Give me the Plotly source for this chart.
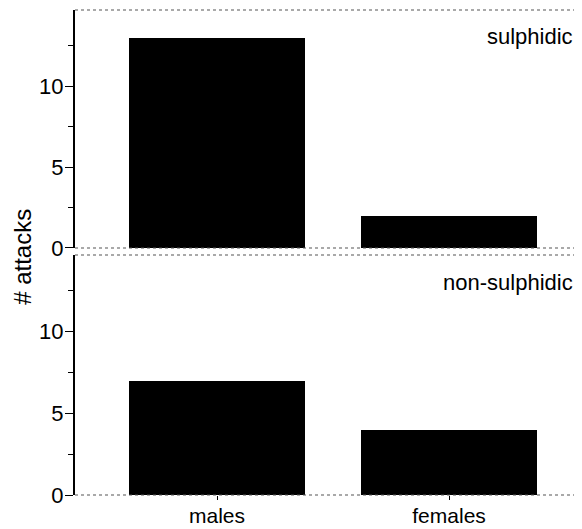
import plotly.graph_objects as go
from plotly.subplots import make_subplots

categories = ["males", "females"]
sulphidic = [13, 2]
non_sulphidic = [7, 4]
panel_labels = ["sulphidic", "non-sulphidic"]
y_tickvals = [0, 5, 10]
y_minor_tickvals = [2.5, 7.5, 12.5]

fig = make_subplots(rows=2, cols=1, shared_xaxes=True, vertical_spacing=0.0)

fig.add_trace(go.Bar(x=categories, y=sulphidic, marker=dict(color="black", line=dict(width=0)),
                     width=0.755, showlegend=False), row=1, col=1)
fig.add_trace(go.Bar(x=categories, y=non_sulphidic, marker=dict(color="black", line=dict(width=0)),
                     width=0.755, showlegend=False), row=2, col=1)

font = dict(family="Liberation Sans, Arial, sans-serif", size=22, color="black")

yax = dict(range=[0, 14.7], tickvals=y_tickvals, ticks="outside", ticklen=8, tickwidth=1,
           tickcolor="black", showline=True, linecolor="black", linewidth=2,
           showgrid=False, zeroline=False, tickfont=font, automargin=False,
           ticklabelstandoff=-3,
           minor=dict(tickvals=y_minor_tickvals, ticks="outside", ticklen=5, tickcolor="black", tickwidth=1))

fig.update_layout(
    width=574, height=521,
    margin=dict(l=67, r=0, t=2, b=34, pad=0),
    plot_bgcolor="white", paper_bgcolor="white",
    font=font, bargap=0,
    xaxis=dict(domain=[0, 1], range=[-0.612, 1.573], showticklabels=False, ticks="",
               showgrid=False, zeroline=False, anchor="y", automargin=False),
    xaxis2=dict(domain=[0, 1], range=[-0.612, 1.573], ticks="outside", ticklen=4, tickcolor="black",
                showgrid=False, zeroline=False, tickfont=dict(font, size=21), anchor="y2",
                automargin=False, ticklabelstandoff=-2),
    yaxis=dict(domain=[0.5093, 1.0], **yax),
    yaxis2=dict(domain=[0.0, 0.4948], **yax),
)

line_style = dict(color="#555", width=1.2, dash="dot")
for yref, ypos in [("y domain", 0), ("y domain", 1), ("y2 domain", 0), ("y2 domain", 1)]:
    fig.add_shape(type="line", xref="paper", x0=0, x1=1, yref=yref, y0=ypos, y1=ypos,
                  line=line_style, layer="above")

fig.add_annotation(text=panel_labels[0], xref="paper", yref="y domain", x=0.986, y=0.89,
                   xanchor="right", yanchor="middle", showarrow=False, font=font)
fig.add_annotation(text=panel_labels[1], xref="paper", yref="y2 domain", x=0.986, y=0.8875,
                   xanchor="right", yanchor="middle", showarrow=False, font=font)

fig.add_annotation(text="# attacks", xref="paper", yref="paper", x=-0.1036, y=0.492,
                   textangle=-90, showarrow=False, xanchor="center", yanchor="middle",
                   font=dict(font, size=24))

fig.write_html("out.html")
